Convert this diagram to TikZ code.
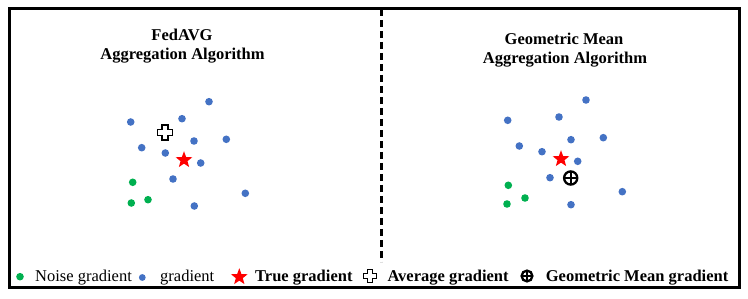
\documentclass[tikz,border=0pt]{standalone}
\usepackage{fontspec}
\setmainfont{Liberation Serif}
\usetikzlibrary{shapes.geometric}
\definecolor{gblue}{HTML}{4472C4}
\definecolor{ggreen}{HTML}{00B050}
\begin{document}
\begin{tikzpicture}[x=1pt,y=-1pt,
  gdot/.style={circle, fill=gblue, draw=none, inner sep=0pt, minimum size=7.6pt},
  ndot/.style={circle, fill=ggreen, draw=none, inner sep=0pt, minimum size=7.6pt},
  truestar/.style={star, star points=5, star point ratio=2.4, fill=red, draw=none, inner sep=0pt, minimum size=17.5pt},
  ttl/.style={anchor=base, inner sep=0pt, font=\bfseries\fontsize{16.5}{19}\selectfont},
  lgd/.style={anchor=base west, inner sep=0pt, font=\fontsize{16.5}{19}\selectfont},
  lgdb/.style={anchor=base west, inner sep=0pt, font=\bfseries\fontsize{16.5}{19}\selectfont},
  avgplus/.pic={\draw[line width=1.6pt, fill=white, line join=miter]
     (-3,-7.6) -- (3,-7.6) -- (3,-3) -- (7.6,-3) -- (7.6,3) -- (3,3)
     -- (3,7.6) -- (-3,7.6) -- (-3,3) -- (-7.6,3) -- (-7.6,-3) -- (-3,-3) -- cycle;},
  gmplus/.pic={\draw[line width=2.3pt] (0,0) circle[radius=6.6];
     \draw[line width=2.1pt] (-6.6,0) -- (6.6,0) (0,-6.6) -- (0,6.6);}
]
\useasboundingbox (0,0) rectangle (748,299);
% frame and divider
\draw[line width=3pt] (9,9) rectangle (739,288);
\draw[line width=3pt, dash pattern=on 7pt off 4pt] (381.5,9) -- (381.5,262);

% titles
\node[ttl] (t1a) at (182,40.5) {FedAVG};
\node[ttl] (t1b) at (182.5,59.8) {Aggregation Algorithm};
\node[ttl] (t2a) at (564,44.5) {Geometric Mean};
\node[ttl] (t2b) at (565,64) {Aggregation Algorithm};

% left panel
\node[gdot] (a1) at (209,101.7) {};
\node[gdot] (a2) at (182,118.7) {};
\node[gdot] (a3) at (130.7,122) {};
\node[gdot] (a4) at (194,141) {};
\node[gdot] (a5) at (226.3,139.3) {};
\node[gdot] (a6) at (141.7,147.7) {};
\node[gdot] (a7) at (165.3,153) {};
\node[gdot] (a8) at (200.7,163) {};
\node[gdot] (a9) at (173,179) {};
\node[gdot] (a10) at (245.3,193.3) {};
\node[gdot] (a11) at (194.3,206) {};
\node[ndot] (an1) at (132.7,182.3) {};
\node[ndot] (an2) at (131.3,203) {};
\node[ndot] (an3) at (148,199.7) {};
\pic (aavg) at (165,132.7) {avgplus};
\node[truestar] (astar) at (184,160) {};

% right panel
\node[gdot] (b1) at (586,100) {};
\node[gdot] (b2) at (559,117) {};
\node[gdot] (b3) at (507.7,120.3) {};
\node[gdot] (b4) at (571,139.7) {};
\node[gdot] (b5) at (603.3,137.7) {};
\node[gdot] (b6) at (519.3,146) {};
\node[gdot] (b7) at (542,151.7) {};
\node[gdot] (b8) at (577.7,161.3) {};
\node[gdot] (b9) at (550,177.7) {};
\node[gdot] (b10) at (622.3,191.7) {};
\node[gdot] (b11) at (571,204.7) {};
\node[ndot] (bn1) at (508.3,185.3) {};
\node[ndot] (bn2) at (507,204) {};
\node[ndot] (bn3) at (525,198) {};
\node[truestar] (bstar) at (561,159) {};
\pic (bgm) at (570.7,178) {gmplus};

% legend
\node[ndot] (kn) at (20,276.7) {};
\node[lgd] (kntxt) at (35,281.7) {Noise gradient};
\node[gdot, minimum size=6.8pt] (kg) at (142.3,277.5) {};
\node[lgd] (kgtxt) at (160,281.7) {gradient};
\node[truestar] (ks) at (239.3,277) {};
\node[lgdb] (kstxt) at (255,281.7) {True gradient};
\pic[scale=0.84] (kavg) at (370,276) {avgplus};
\node[lgdb] (kavgtxt) at (387.3,281.7) {Average gradient};
\pic[scale=0.82] (kgm) at (527,276) {gmplus};
\node[lgdb] (kgmtxt) at (545.7,281.7) {Geometric Mean gradient};
\end{tikzpicture}
\end{document}
